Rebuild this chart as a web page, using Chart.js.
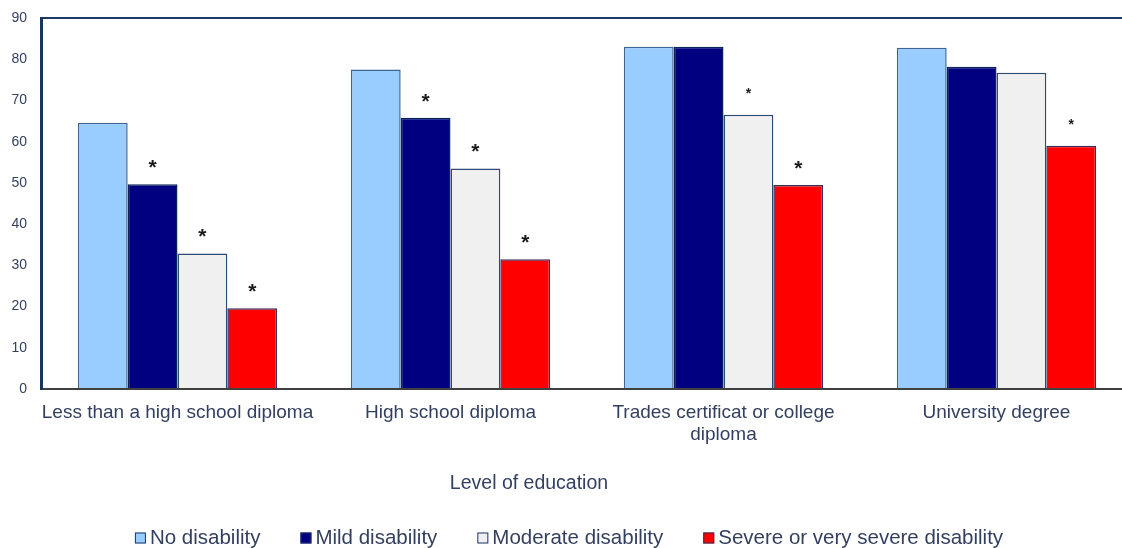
<!DOCTYPE html>
<html>
<head>
<meta charset="utf-8">
<script src="https://cdn.jsdelivr.net/npm/chart.js@4.4.0/dist/chart.umd.min.js"></script>
<style>
  html, body { margin: 0; padding: 0; background: #fff; overflow: hidden; }
  #wrap { width: 1122px; height: 548px; overflow: hidden; }
</style>
</head>
<body>
<div id="wrap"><canvas id="myChart" width="1140" height="548"></canvas></div>
<script>
const categories = [
  'Less than a high school diploma',
  'High school diploma',
  ['Trades certificat or college', 'diploma'],
  'University degree'
];
const seriesNames = ['No disability', 'Mild disability', 'Moderate disability', 'Severe or very severe disability'];
const noDisability = [64.6, 77.5, 83.0, 82.8];
const mildDisability = [49.7, 65.8, 83.0, 78.2];
const moderateDisability = [32.9, 53.5, 66.5, 76.7];
const severeDisability = [19.6, 31.5, 49.5, 59.0];
// asterisks above bars: 2 = big, 1 = small, 0 = none
const noStars = [0, 0, 0, 0];
const mildStars = [2, 2, 0, 0];
const moderateStars = [2, 2, 1, 0];
const severeStars = [2, 2, 2, 1];
const yMin = 0, yMax = 90, yStep = 10;
const xTitle = 'Level of education';

const colors = ['#99ccff', '#000080', '#f0f0f0', '#ff0000'];
const borders = ['#3f6593', '#0b2456', '#2c4a75', '#3b2a5c'];
const textColor = '#333f5f';
const font = '"Liberation Sans", Arial, sans-serif';

const dataSource = {
  labels: categories,
  datasets: [noDisability, mildDisability, moderateDisability, severeDisability].map(function (d, i) {
    return {
      label: seriesNames[i],
      data: d,
      stars: [noStars, mildStars, moderateStars, severeStars][i],
      backgroundColor: colors[i],
      borderColor: borders[i],
      borderWidth: 1.5,
      barPercentage: 1,
      categoryPercentage: 0.73
    };
  })
};

const extras = {
  id: 'extras',
  afterDatasetsDraw(chart) {
    const ctx = chart.ctx;
    ctx.save();
    ctx.fillStyle = '#1a1a1a';
    ctx.textAlign = 'center';
    ctx.textBaseline = 'alphabetic';
    chart.data.datasets.forEach(function (ds, i) {
      chart.getDatasetMeta(i).data.forEach(function (bar, j) {
        const s = ds.stars[j];
        if (!s) return;
        ctx.font = s === 2 ? 'bold 21px ' + font : 'bold 14px ' + font;
        ctx.fillText('*', bar.x, bar.y - (s === 2 ? 10 : 17));
      });
    });

    // axis title
    ctx.fillStyle = textColor;
    ctx.textBaseline = 'middle';
    ctx.font = '19.5px ' + font;
    ctx.fillText(xTitle, 529, 484);

    // legend
    ctx.font = '20.5px ' + font;
    ctx.textAlign = 'left';
    const box = 11, gap = 4, itemGap = 40;
    const widths = chart.data.datasets.map(function (ds) { return ctx.measureText(ds.label).width; });
    let total = 0;
    widths.forEach(function (w) { total += box + gap + w; });
    total += itemGap * (widths.length - 1);
    let x = 569 - total / 2;
    const y = 538;
    chart.data.datasets.forEach(function (ds, i) {
      ctx.fillStyle = ds.backgroundColor;
      ctx.fillRect(x, y - box / 2, box, box);
      ctx.strokeStyle = '#1f3864';
      ctx.lineWidth = 1;
      ctx.strokeRect(x + 0.5, y - box / 2 + 0.5, box - 1, box - 1);
      ctx.fillStyle = textColor;
      ctx.fillText(ds.label, x + box + gap, y);
      x += box + gap + widths[i] + itemGap;
    });
    ctx.restore();
  }
};

new Chart(document.getElementById('myChart'), {
  type: 'bar',
  data: dataSource,
  plugins: [extras],
  options: {
    responsive: false,
    animation: false,
    layout: { padding: { top: 18, right: 7, left: 0, bottom: 0 } },
    plugins: {
      legend: { display: false },
      tooltip: { enabled: false }
    },
    scales: {
      x: {
        grid: { display: false, drawTicks: false },
        border: { color: '#404040', width: 2 },
        ticks: {
          color: textColor,
          font: { family: font, size: 19 },
          padding: 12,
          maxRotation: 0,
          autoSkip: false
        },
        afterFit: function (scale) { scale.height = 159; }
      },
      y: {
        min: yMin,
        max: yMax,
        grid: {
          drawTicks: false,
          lineWidth: 2,
          color: function (c) { return c.tick && c.tick.value === yMax ? '#1f3864' : 'rgba(0,0,0,0)'; }
        },
        border: { color: '#17375e', width: 3 },
        ticks: {
          stepSize: yStep,
          color: textColor,
          font: { family: font, size: 14 },
          padding: 14
        },
        afterFit: function (scale) {
          scale.width = 41;
          scale.paddingTop = 0;
          scale.paddingBottom = 0;
        }
      }
    }
  }
});
</script>
</body>
</html>
